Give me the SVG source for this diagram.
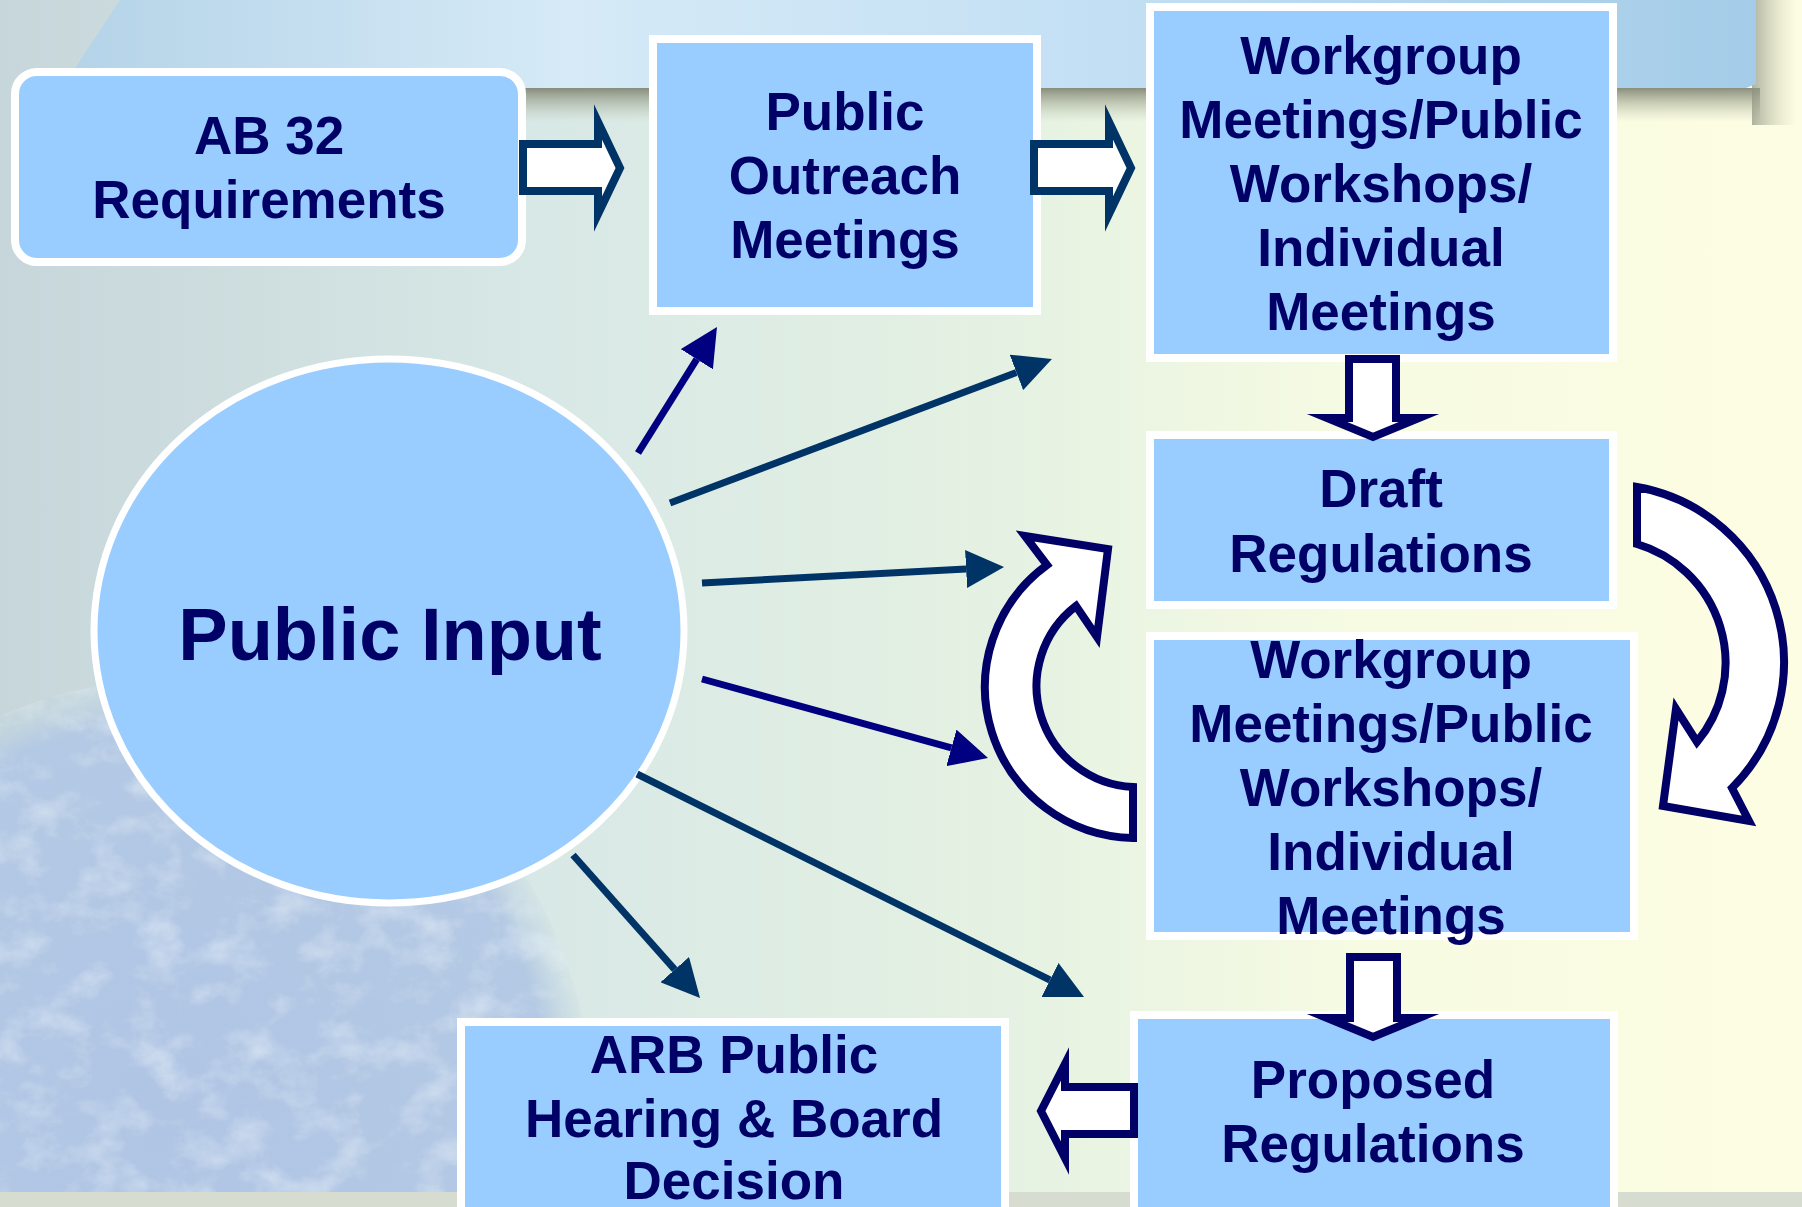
<svg xmlns="http://www.w3.org/2000/svg" width="1802" height="1207" viewBox="0 0 1802 1207">
<defs>
<style>
.box{fill:#99ccff;stroke:#ffffff;stroke-width:8}
.lbl{font-family:"Liberation Sans",Arial,sans-serif;font-weight:bold;font-size:53px;fill:#000066;text-anchor:middle}
.blk{fill:#ffffff;stroke:#000066;stroke-width:8;stroke-linejoin:miter;stroke-miterlimit:10}
.blk2{stroke:#003366}
.thinN{stroke:#000080;stroke-width:7;fill:none;marker-end:url(#hN)}
.thinT{stroke:#003366;stroke-width:7;fill:none;marker-end:url(#hT)}
</style>
<linearGradient id="bg" x1="0" y1="0" x2="1" y2="0">
<stop offset="0" stop-color="#c6d6da"/>
<stop offset="0.3" stop-color="#d8e8e6"/>
<stop offset="0.55" stop-color="#e4f1e2"/>
<stop offset="0.75" stop-color="#f6fbe2"/>
<stop offset="1" stop-color="#fdfde3"/>
</linearGradient>
<linearGradient id="band" x1="0" y1="0" x2="1" y2="0">
<stop offset="0" stop-color="#b4d3e8"/>
<stop offset="0.3" stop-color="#d6eaf7"/>
<stop offset="0.6" stop-color="#c4e0f4"/>
<stop offset="1" stop-color="#a4cce8"/>
</linearGradient>
<linearGradient id="shadow" x1="0" y1="0" x2="0" y2="1">
<stop offset="0" stop-color="#7d8270" stop-opacity="0.9"/>
<stop offset="1" stop-color="#b8c0a8" stop-opacity="0"/>
</linearGradient>
<linearGradient id="shadowR" x1="0" y1="0" x2="1" y2="0">
<stop offset="0" stop-color="#8d9280" stop-opacity="0.7"/>
<stop offset="1" stop-color="#c8ccb0" stop-opacity="0"/>
</linearGradient>
<radialGradient id="earth" cx="0.5" cy="0.5" r="0.5">
<stop offset="0" stop-color="#b0c5e4"/>
<stop offset="0.9" stop-color="#b4c9e4"/>
<stop offset="1" stop-color="#c2d6e2" stop-opacity="0.2"/>
</radialGradient>
<filter id="clouds" x="0" y="0" width="1" height="1">
<feTurbulence type="fractalNoise" baseFrequency="0.022 0.03" numOctaves="5" seed="7"/>
<feColorMatrix type="matrix" values="0 0 0 0 0.85 0 0 0 0 0.92 0 0 0 0 0.96 0 0 0 2.2 -1.0"/>
</filter>
<clipPath id="earthClip"><circle cx="170" cy="1100" r="420"/></clipPath>
<marker id="hN" markerUnits="userSpaceOnUse" viewBox="0 -19 38 38" markerWidth="38" markerHeight="38" refX="0" refY="0" orient="auto"><path d="M0,-19 L38,0 L0,19 Z" fill="#000080"/></marker>
<marker id="hT" markerUnits="userSpaceOnUse" viewBox="0 -19 38 38" markerWidth="38" markerHeight="38" refX="0" refY="0" orient="auto"><path d="M0,-19 L38,0 L0,19 Z" fill="#003366"/></marker>
</defs>

<g id="background">
<rect x="0" y="0" width="1802" height="1207" fill="url(#bg)"/>
<rect x="40" y="88" width="1720" height="34" fill="url(#shadow)"/>
<rect x="1752" y="0" width="45" height="125" fill="url(#shadowR)"/>
<polygon points="120,0 1756,0 1756,84 1746,88 62,88" fill="url(#band)"/>
<circle cx="170" cy="1100" r="420" fill="url(#earth)"/>
<rect x="0" y="660" width="600" height="547" filter="url(#clouds)" clip-path="url(#earthClip)" opacity="0.5"/>
<rect x="0" y="1192" width="1802" height="15" fill="#d6dccf"/>
</g>

<g id="public-input">
<ellipse cx="389" cy="631" rx="295" ry="272" fill="#99ccff" stroke="#ffffff" stroke-width="7"/>
<text class="lbl" x="390" y="660" style="font-size:74px">Public Input</text>
</g>

<g id="ab32">
<rect class="box" x="15" y="72" width="507" height="190" rx="22"/>
<text class="lbl"><tspan x="269" y="154">AB 32</tspan><tspan x="269" y="218">Requirements</tspan></text>
</g>

<g id="outreach">
<rect class="box" x="653" y="39" width="384" height="272"/>
<text class="lbl"><tspan x="845" y="130">Public</tspan><tspan x="845" y="194">Outreach</tspan><tspan x="845" y="258">Meetings</tspan></text>
</g>

<g id="workgroup1">
<rect class="box" x="1150" y="7" width="463" height="351"/>
<text class="lbl"><tspan x="1381" y="74">Workgroup</tspan><tspan x="1381" y="138">Meetings/Public</tspan><tspan x="1381" y="202">Workshops/</tspan><tspan x="1381" y="266">Individual</tspan><tspan x="1381" y="330">Meetings</tspan></text>
</g>

<g id="draft">
<rect class="box" x="1150" y="435" width="463" height="170"/>
<text class="lbl"><tspan x="1381" y="507">Draft</tspan><tspan x="1381" y="572">Regulations</tspan></text>
</g>

<g id="workgroup2">
<rect class="box" x="1150" y="636" width="484" height="300"/>
<text class="lbl"><tspan x="1391" y="678">Workgroup</tspan><tspan x="1391" y="742">Meetings/Public</tspan><tspan x="1391" y="806">Workshops/</tspan><tspan x="1391" y="870">Individual</tspan><tspan x="1391" y="934">Meetings</tspan></text>
</g>

<g id="proposed">
<rect class="box" x="1134" y="1015" width="480" height="210"/>
<text class="lbl"><tspan x="1373" y="1098">Proposed</tspan><tspan x="1373" y="1162">Regulations</tspan></text>
</g>

<g id="arb">
<rect class="box" x="461" y="1022" width="544" height="200"/>
<text class="lbl"><tspan x="734" y="1073">ARB Public</tspan><tspan x="734" y="1137">Hearing &amp; Board</tspan><tspan x="734" y="1199">Decision</tspan></text>
</g>

<g id="connectors">
<path class="blk blk2" d="M523 144 L598 144 L598 122 L620 168 L598 214 L598 191 L523 191 Z"/>
<path class="blk blk2" d="M1034 144 L1109 144 L1109 122 L1131 168 L1109 214 L1109 191 L1034 191 Z"/>
<path class="blk" d="M1349 359 L1396 359 L1396 418 L1419 418 L1373 437 L1327 418 L1349 418 Z"/>
<path class="blk" d="M1350 957 L1397 957 L1397 1018 L1419 1018 L1373 1037 L1327 1018 L1350 1018 Z"/>
<path class="blk" d="M1134 1087 L1065 1087 L1065 1064 L1041 1111 L1065 1158 L1065 1134 L1134 1134 Z"/>
<path class="blk" d="M1133 838 A151 151 0 0 1 1047 565 L1025 536 L1108 549 L1097 637 L1076 606 A101 101 0 0 0 1133 787 Z"/>
<path class="blk" d="M1637 487 A178 178 0 0 1 1732 788 L1749 821 L1663 806 L1676 709 L1697 742 A124 124 0 0 0 1637 544 Z"/>
<line class="thinN" x1="638" y1="453" x2="696.8" y2="359.2"/>
<line class="thinT" x1="670" y1="503" x2="1016.4" y2="372.4"/>
<line class="thinT" x1="702" y1="583" x2="966.1" y2="569"/>
<line class="thinN" x1="702" y1="679" x2="951.4" y2="747.9"/>
<line class="thinT" x1="637" y1="774" x2="1050" y2="980"/>
<line class="thinT" x1="573" y1="855" x2="674.8" y2="969.6"/>
</g>
</svg>
